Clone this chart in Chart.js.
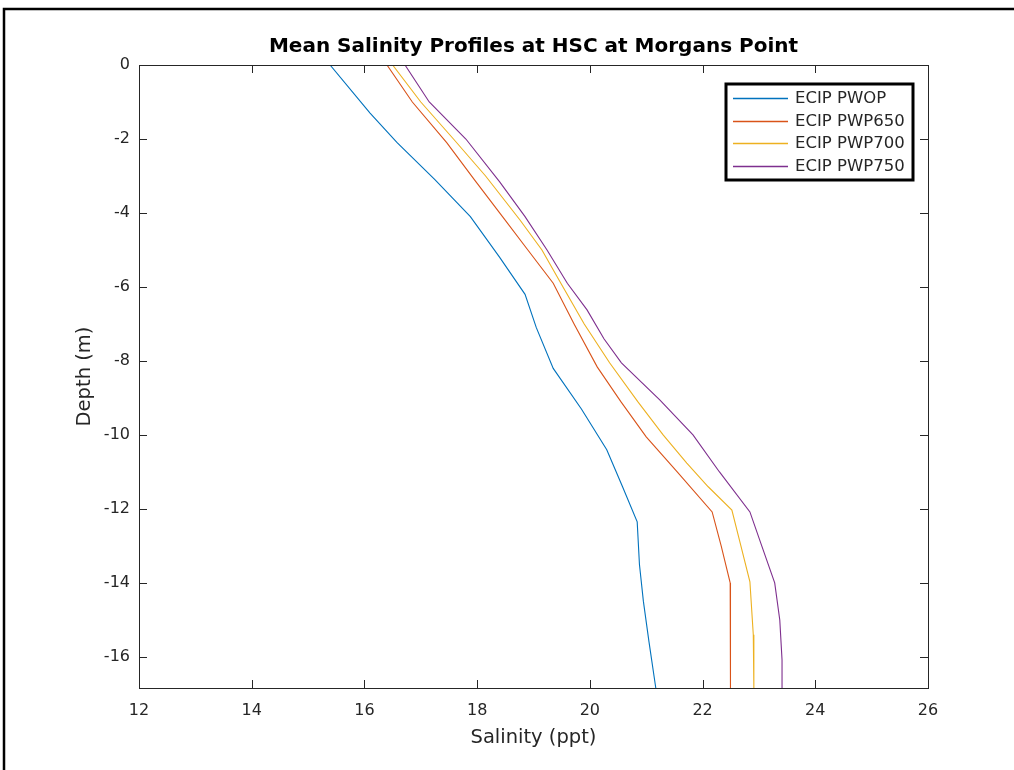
<!DOCTYPE html>
<html><head><meta charset="utf-8">
<script src="https://cdn.jsdelivr.net/npm/chart.js@4.4.1/dist/chart.umd.min.js"></script>
<style>html,body{margin:0;padding:0;background:#fff}canvas{display:block}</style>
</head><body>
<canvas id="c" width="1014" height="770"></canvas>
<script>
const chartTitle = 'Mean Salinity Profiles at HSC at Morgans Point';
const xTitle = 'Salinity (ppt)';
const yTitle = 'Depth (m)';
const seriesLabels = ['ECIP PWOP', 'ECIP PWP650', 'ECIP PWP700', 'ECIP PWP750'];
const seriesColors = ['#0072BD', '#D95319', '#EDB120', '#7E2F8E'];
const xTicks = [12, 14, 16, 18, 20, 22, 24, 26];
const yTicks = [0, -2, -4, -6, -8, -10, -12, -14, -16];

const depthPWOP = [0, -1.3, -2.1, -3.1, -4.1, -5.2, -6.2, -7.1, -8.2, -9.3, -10.4, -11.4, -12.35, -13.5, -14.5, -15.6, -16.84];
const salPWOP   = [15.39, 16.1, 16.58, 17.25, 17.88, 18.4, 18.85, 19.05, 19.35, 19.85, 20.3, 20.58, 20.84, 20.88, 20.95, 21.05, 21.17];

const depthPWP650 = [0, -1, -2.1, -3.1, -4.1, -5.0, -5.9, -7.0, -8.16, -9.1, -10.05, -11.0, -12.08, -13.0, -14.0, -15.4, -16.84];
const salPWP650   = [16.4, 16.85, 17.46, 17.95, 18.45, 18.9, 19.35, 19.72, 20.13, 20.55, 21.0, 21.55, 22.17, 22.33, 22.49, 22.5, 22.49];

const depthPWP700 = [0, -1, -2.0, -3.0, -4.19, -5.0, -5.86, -7.0, -8.05, -9.1, -10.0, -10.76, -11.4, -12.03, -13.0, -13.97, -15.4, -16.84];
const salPWP700   = [16.5, 17.0, 17.58, 18.15, 18.76, 19.15, 19.47, 19.9, 20.35, 20.85, 21.3, 21.72, 22.1, 22.52, 22.68, 22.84, 22.9, 22.91];

const depthPWP750 = [0, -1, -2, -3.16, -4.1, -5.0, -5.9, -6.62, -7.4, -8.05, -9.05, -10.0, -11.0, -12.08, -13.0, -14.0, -15.0, -16.08, -16.84];
const salPWP750   = [16.72, 17.15, 17.8, 18.4, 18.85, 19.24, 19.6, 19.95, 20.25, 20.56, 21.24, 21.83, 22.3, 22.84, 23.05, 23.28, 23.37, 23.41, 23.41];

const depths = [depthPWOP, depthPWP650, depthPWP700, depthPWP750];
const sals = [salPWOP, salPWP650, salPWP700, salPWP750];

const datasets = seriesLabels.map((lab, i) => ({
  label: lab,
  data: depths[i].map((d, j) => ({ x: sals[i][j], y: d })),
  showLine: true,
  borderColor: seriesColors[i],
  backgroundColor: seriesColors[i],
  borderWidth: 1.1,
  pointRadius: 0,
  tension: 0
}));

const AX = '#262626';
const FONT = 'DejaVu Sans';

const decor = {
  id: 'decor',
  afterDraw(chart) {
    const ctx = chart.ctx;
    const a = chart.chartArea;
    const xs = chart.scales.x, ys = chart.scales.y;
    ctx.save();
    // outer frame (top and left)
    ctx.strokeStyle = '#000';
    ctx.lineWidth = 2.5;
    ctx.beginPath();
    ctx.moveTo(4, 770); ctx.lineTo(4, 9); ctx.lineTo(1014, 9);
    ctx.stroke();
    // axes box
    ctx.strokeStyle = AX;
    ctx.lineWidth = 1;
    ctx.strokeRect(Math.round(a.left) + 0.5, Math.round(a.top) + 0.5, Math.round(a.right - a.left), Math.round(a.bottom - a.top));
    // inward ticks
    const tl = 8;
    ctx.beginPath();
    xTicks.forEach(v => {
      const px = Math.round(xs.getPixelForValue(v)) + 0.5;
      ctx.moveTo(px, a.bottom); ctx.lineTo(px, a.bottom - tl);
      ctx.moveTo(px, a.top); ctx.lineTo(px, a.top + tl);
    });
    yTicks.forEach(v => {
      const py = Math.round(ys.getPixelForValue(v)) + 0.5;
      ctx.moveTo(a.left, py); ctx.lineTo(a.left + tl, py);
      ctx.moveTo(a.right, py); ctx.lineTo(a.right - tl, py);
    });
    ctx.stroke();
    // titles
    ctx.fillStyle = '#000';
    ctx.font = 'bold 20px "' + FONT + '"';
    ctx.textAlign = 'center'; ctx.textBaseline = 'middle';
    ctx.fillText(chartTitle, (a.left + a.right) / 2, 47);
    ctx.fillStyle = AX;
    ctx.font = '19.5px "' + FONT + '"';
    ctx.fillText(xTitle, (a.left + a.right) / 2, 738);
    ctx.save();
    ctx.translate(85, (a.top + a.bottom) / 2);
    ctx.rotate(-Math.PI / 2);
    ctx.fillText(yTitle, 0, 0);
    ctx.restore();
    // legend
    const bx = 726, by = 84, bw = 187, bh = 96;
    ctx.fillStyle = '#fff';
    ctx.fillRect(bx, by, bw, bh);
    ctx.strokeStyle = '#000';
    ctx.lineWidth = 3;
    ctx.strokeRect(bx, by, bw, bh);
    ctx.font = '16.5px "' + FONT + '"';
    ctx.textAlign = 'left';
    seriesLabels.forEach((lab, i) => {
      const yy = Math.round(98 + i * 22.5);
      ctx.strokeStyle = seriesColors[i];
      ctx.lineWidth = 1.5;
      ctx.beginPath();
      ctx.moveTo(733, yy + 0.5); ctx.lineTo(788, yy + 0.5);
      ctx.stroke();
      ctx.fillStyle = AX;
      ctx.fillText(lab, 795, yy + 1);
    });
    ctx.restore();
  }
};

new Chart(document.getElementById('c'), {
  type: 'scatter',
  data: { datasets },
  options: {
    responsive: false,
    animation: false,
    layout: { padding: { left: 0, top: 65, right: 86, bottom: 0 } },
    plugins: { legend: { display: false }, title: { display: false }, tooltip: { enabled: false } },
    scales: {
      x: {
        type: 'linear', min: 12, max: 26,
        grid: { display: false, drawTicks: false },
        border: { display: false },
        afterFit: s => { s.height = 82; },
        afterBuildTicks: s => { s.ticks = xTicks.map(v => ({ value: v })); },
        ticks: { color: AX, font: { family: FONT, size: 16 }, padding: 13, maxRotation: 0, callback: v => String(v) }
      },
      y: {
        type: 'linear', min: -16.84, max: 0,
        grid: { display: false, drawTicks: false },
        border: { display: false },
        afterFit: s => { s.width = 139; },
        afterBuildTicks: s => { s.ticks = yTicks.map(v => ({ value: v })); },
        ticks: { color: AX, font: { family: FONT, size: 16 }, padding: 9, callback: v => String(v) }
      }
    }
  },
  plugins: [decor]
});
</script>
</body></html>
